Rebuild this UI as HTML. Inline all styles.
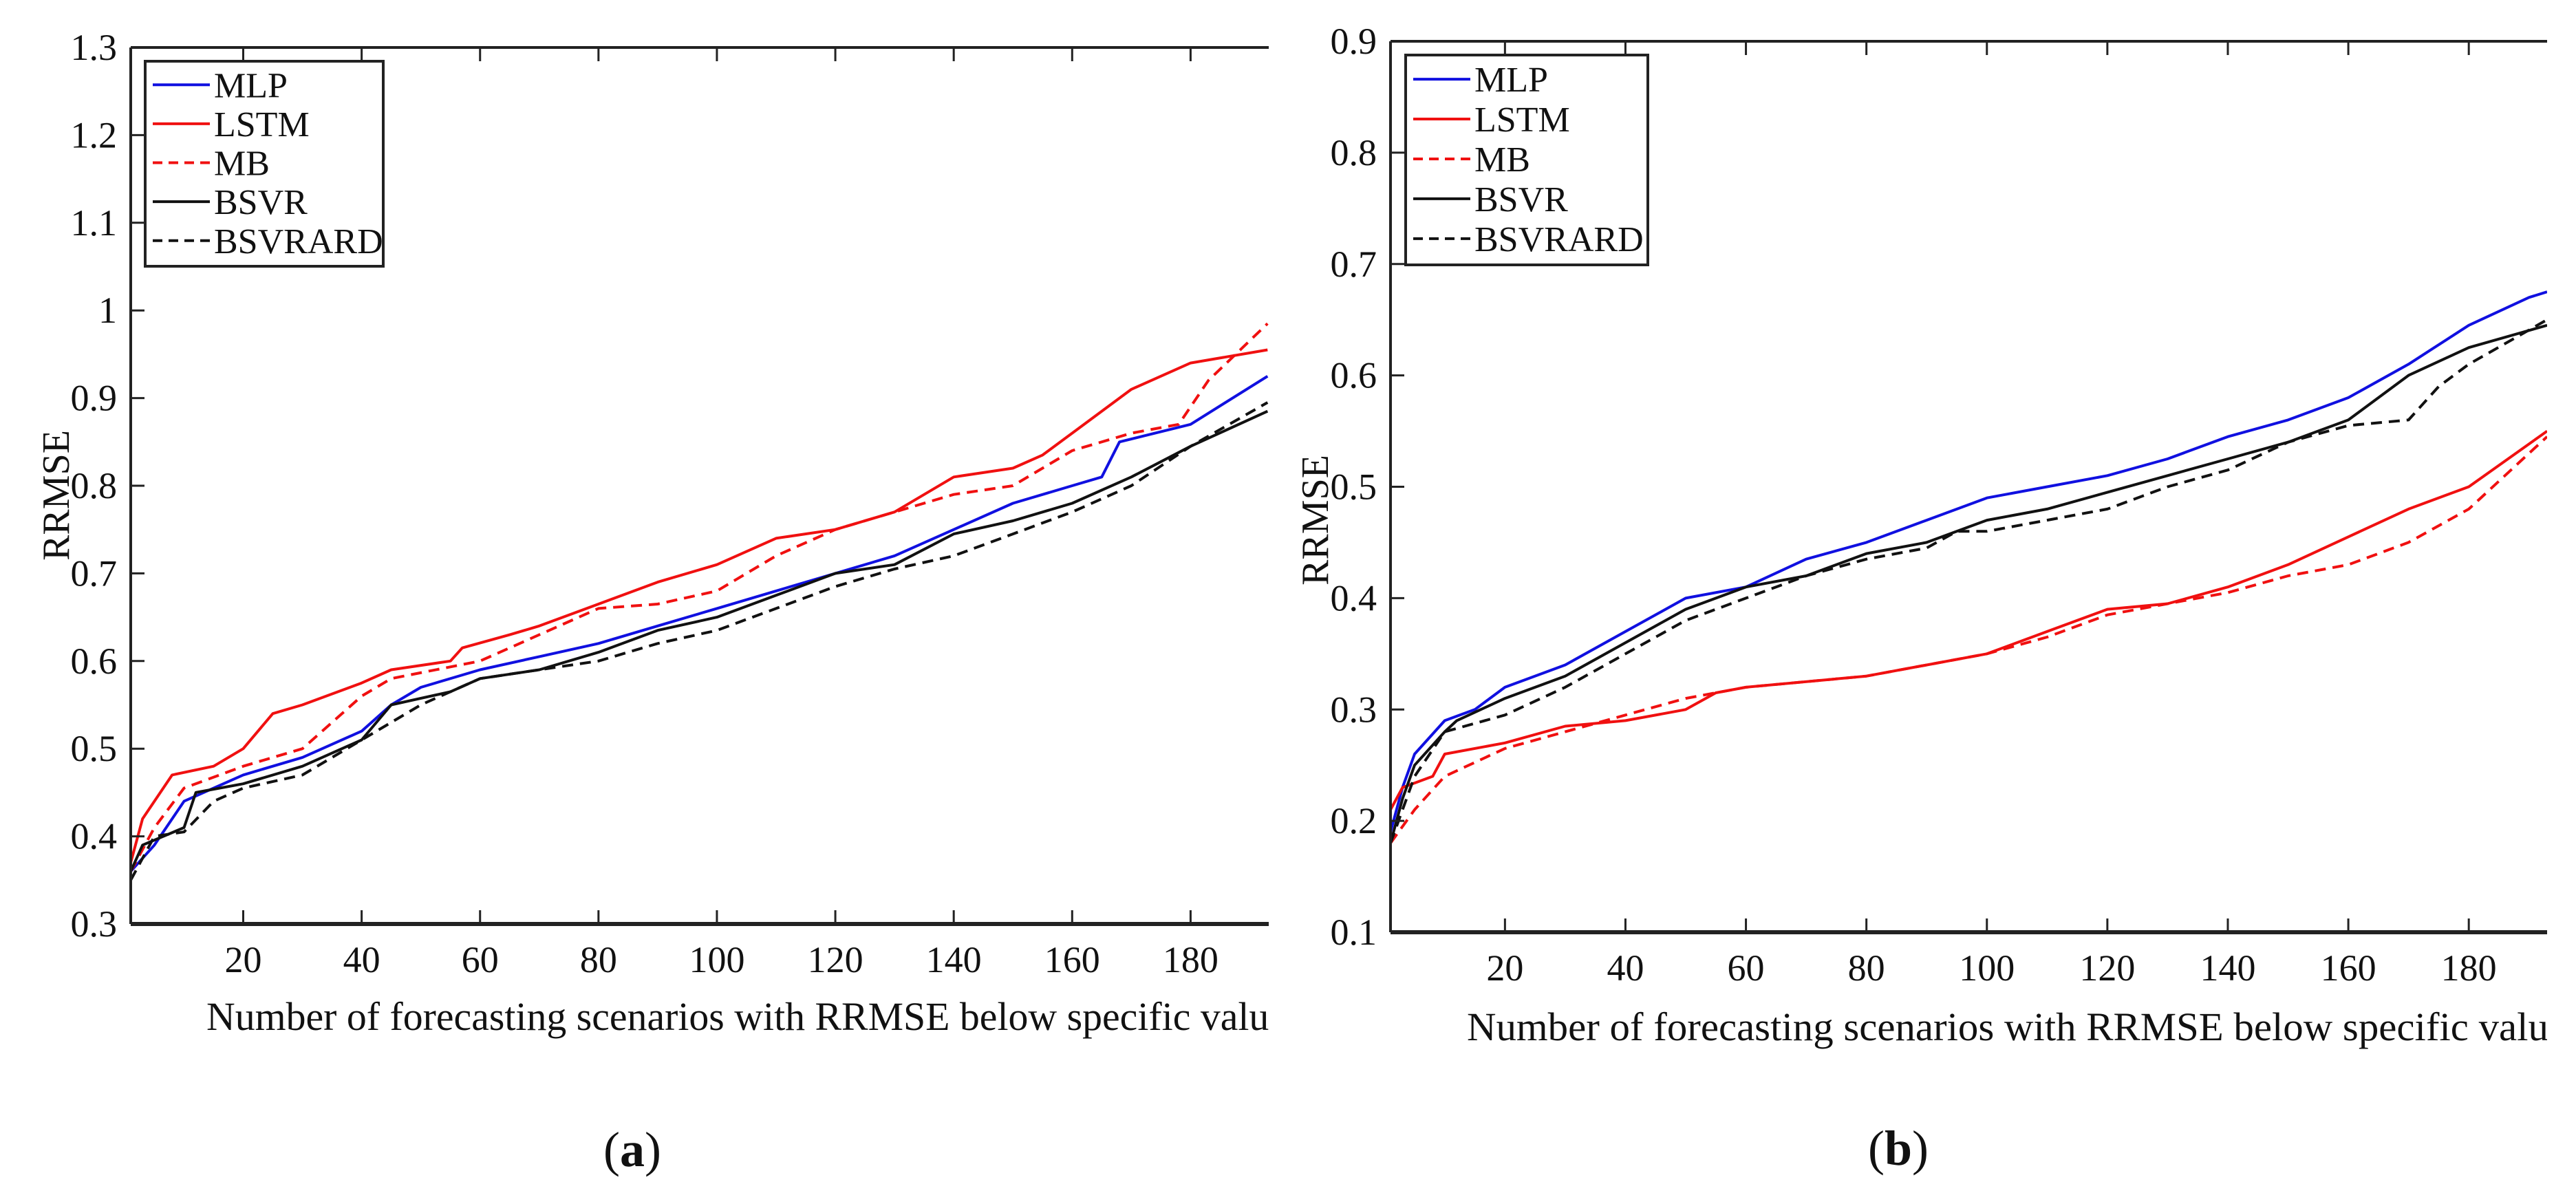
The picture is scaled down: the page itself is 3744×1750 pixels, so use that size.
<!DOCTYPE html>
<html><head><meta charset="utf-8"><style>
html,body{margin:0;padding:0;background:#fff;}
svg{display:block;}
text{font-family:"Liberation Serif",serif;fill:#111;}
</style></head><body>
<svg id="fig" width="3744" height="1750" viewBox="0 0 3744 1750">
<defs>
<clipPath id="clipA"><rect x="190" y="69" width="1654" height="1274"/></clipPath>
<clipPath id="clipB"><rect x="2021" y="60" width="1681" height="1296"/></clipPath>
<clipPath id="clipTA"><rect x="0" y="1400" width="1844" height="200"/></clipPath>
<clipPath id="clipTB"><rect x="1900" y="1400" width="1802" height="200"/></clipPath>
</defs>
<g id="chartA"></g>
<g id="chartB"></g>
</svg>
<script>
const seriesNames = ["MLP","LSTM","MB","BSVR","BSVRARD"];
const seriesColors = ["#1010e0","#f01010","#f01010","#111111","#111111"];
const seriesDash = ["", "", "16,10", "", "16,10"];
const xTicks = [20,40,60,80,100,120,140,160,180];
const yTicksA = [0.3,0.4,0.5,0.6,0.7,0.8,0.9,1,1.1,1.2,1.3];
const yTicksB = [0.1,0.2,0.3,0.4,0.5,0.6,0.7,0.8,0.9];

const aMLP = [[1,0.36],[5,0.39],[10,0.44],[20,0.47],[30,0.49],[40,0.52],[45,0.55],[50,0.57],[60,0.59],[70,0.605],[80,0.62],[90,0.64],[100,0.66],[110,0.68],[120,0.70],[130,0.72],[140,0.75],[150,0.78],[160,0.80],[165,0.81],[168,0.85],[180,0.87],[193,0.925]];
const aLSTM = [[1,0.37],[3,0.42],[8,0.47],[15,0.48],[20,0.50],[25,0.54],[30,0.55],[40,0.575],[45,0.59],[55,0.60],[57,0.615],[65,0.63],[70,0.64],[80,0.665],[90,0.69],[100,0.71],[110,0.74],[120,0.75],[130,0.77],[140,0.81],[150,0.82],[155,0.835],[160,0.86],[170,0.91],[180,0.94],[193,0.955]];
const aMB = [[1,0.36],[5,0.41],[10,0.455],[20,0.48],[30,0.50],[35,0.53],[40,0.56],[45,0.58],[60,0.60],[70,0.63],[80,0.66],[90,0.665],[100,0.68],[110,0.72],[120,0.75],[130,0.77],[140,0.79],[150,0.80],[160,0.84],[170,0.86],[178,0.87],[183,0.92],[193,0.985]];
const aBSVR = [[1,0.36],[3,0.39],[10,0.41],[12,0.45],[20,0.46],[30,0.48],[40,0.51],[45,0.55],[55,0.565],[60,0.58],[70,0.59],[80,0.61],[90,0.635],[100,0.65],[110,0.675],[120,0.70],[130,0.71],[140,0.745],[150,0.76],[160,0.78],[170,0.81],[180,0.845],[193,0.885]];
const aBSVRARD = [[1,0.35],[5,0.40],[10,0.405],[15,0.44],[20,0.455],[30,0.47],[40,0.51],[45,0.53],[50,0.55],[60,0.58],[70,0.59],[80,0.60],[90,0.62],[100,0.635],[110,0.66],[120,0.685],[130,0.705],[140,0.72],[150,0.745],[160,0.77],[170,0.80],[180,0.845],[193,0.895]];

const bMLP = [[1,0.19],[3,0.23],[5,0.26],[10,0.29],[15,0.30],[20,0.32],[30,0.34],[40,0.37],[50,0.40],[60,0.41],[70,0.435],[80,0.45],[90,0.47],[100,0.49],[110,0.50],[120,0.51],[130,0.525],[140,0.545],[150,0.56],[160,0.58],[170,0.61],[180,0.645],[190,0.67],[193,0.675]];
const bLSTM = [[1,0.21],[3,0.23],[8,0.24],[10,0.26],[20,0.27],[30,0.285],[40,0.29],[50,0.30],[55,0.315],[60,0.32],[80,0.33],[100,0.35],[110,0.37],[120,0.39],[130,0.395],[140,0.41],[150,0.43],[160,0.455],[170,0.48],[180,0.50],[193,0.55]];
const bMB = [[1,0.18],[5,0.21],[10,0.24],[20,0.265],[30,0.28],[40,0.295],[50,0.31],[60,0.32],[80,0.33],[100,0.35],[110,0.365],[120,0.385],[130,0.395],[140,0.405],[150,0.42],[160,0.43],[170,0.45],[180,0.48],[190,0.53],[193,0.545]];
const bBSVR = [[1,0.18],[3,0.22],[5,0.25],[10,0.28],[12,0.29],[20,0.31],[30,0.33],[40,0.36],[50,0.39],[60,0.41],[70,0.42],[80,0.44],[90,0.45],[100,0.47],[110,0.48],[120,0.495],[130,0.51],[140,0.525],[150,0.54],[160,0.56],[170,0.60],[180,0.625],[193,0.645]];
const bBSVRARD = [[1,0.18],[5,0.24],[10,0.28],[20,0.295],[30,0.32],[40,0.35],[50,0.38],[60,0.40],[70,0.42],[80,0.435],[90,0.445],[95,0.46],[100,0.46],[110,0.47],[120,0.48],[130,0.50],[140,0.515],[150,0.54],[160,0.555],[170,0.56],[175,0.59],[180,0.61],[193,0.65]];

const NS="http://www.w3.org/2000/svg";
function mk(tag, attrs, parent){const e=document.createElementNS(NS,tag);for(const k in attrs)e.setAttribute(k,attrs[k]);parent.appendChild(e);return e;}

function drawChart(g, cfg){
  const sx=v=>cfg.x0+(v-1)/(cfg.xmax-1)*(cfg.x1-cfg.x0);
  const sy=v=>cfg.yb-(v-cfg.ymin)/(cfg.ymax-cfg.ymin)*(cfg.yb-cfg.yt);
  const sg=mk('g',{'clip-path':'url(#'+cfg.clip+')'},g);
  
  
  cfg.data.forEach((d,i)=>{
    const p=mk('polyline',{points:d.map(q=>sx(q[0]).toFixed(1)+','+sy(q[1]).toFixed(1)).join(' '),fill:'none',stroke:seriesColors[i],'stroke-width':4,'stroke-linejoin':'round'},sg);
    if(seriesDash[i])p.setAttribute('stroke-dasharray',seriesDash[i]);
    
    
  });
  const ax=mk('g',{},g);
  
  
  mk('line',{x1:cfg.x0,y1:cfg.yt,x2:cfg.x1,y2:cfg.yt,stroke:'#222','stroke-width':4},ax);
  mk('line',{x1:cfg.x0,y1:cfg.yt,x2:cfg.x0,y2:cfg.yb,stroke:'#222','stroke-width':4},ax);
  mk('line',{x1:cfg.x0,y1:cfg.yb,x2:cfg.x1,y2:cfg.yb,stroke:'#222','stroke-width':6},ax);
  xTicks.forEach(t=>{
    const x=sx(t);
    mk('line',{x1:x,y1:cfg.yb,x2:x,y2:cfg.yb-20,stroke:'#222','stroke-width':3},ax);
    mk('line',{x1:x,y1:cfg.yt,x2:x,y2:cfg.yt+20,stroke:'#222','stroke-width':3},ax);
    const tl=mk('text',{x:x,y:cfg.tickBase,'font-size':54,'text-anchor':'middle'},ax);
    tl.textContent=t;
    
    
  });
  cfg.yticks.forEach(t=>{
    const y=sy(t);
    mk('line',{x1:cfg.x0,y1:y,x2:cfg.x0+20,y2:y,stroke:'#222','stroke-width':3},ax);
    const tl=mk('text',{x:cfg.x0-20,y:y+18,'font-size':54,'text-anchor':'end'},ax);
    tl.textContent=String(t);
    
    
  });
  const yt=mk('text',{x:0,y:0,'font-size':56,'text-anchor':'middle',transform:'translate('+cfg.ytx+','+cfg.yty+') rotate(-90)'},g);
  yt.textContent='RRMSE';
  
  
  const xg=mk('g',{'clip-path':'url(#'+cfg.tclip+')'},g);
  const xt=mk('text',{x:cfg.xtx,y:cfg.xty,'font-size':58,textLength:cfg.tlen,lengthAdjust:'spacingAndGlyphs'},xg);
  xt.textContent='Number of forecasting scenarios with RRMSE below specific value';
  
  
  const lg=mk('g',{},g);
  
  
  const L=cfg.leg;
  mk('rect',{x:L.x,y:L.y,width:L.w,height:L.h,fill:'#fff',stroke:'#222','stroke-width':4},lg);
  seriesNames.forEach((n,i)=>{
    const cy=L.y+L.h*(0.115+i*0.19);
    const ln=mk('line',{x1:L.x+11,y1:cy,x2:L.x+94,y2:cy,stroke:seriesColors[i],'stroke-width':4},lg);
    if(seriesDash[i])ln.setAttribute('stroke-dasharray','14,9');
    
    
    const tx=mk('text',{x:L.x+100,y:cy+18,'font-size':52},lg);
    tx.textContent=n;
    
    
  });
  const cap=mk('text',{x:cfg.capx,y:cfg.capy,'font-size':72,'text-anchor':'middle'},g);
  cap.innerHTML='(<tspan font-weight="bold">'+cfg.cap+'</tspan>)';
  
  
}

drawChart(document.getElementById('chartA'),{
  x0:190,x1:1844,xmax:193.2,yt:69,yb:1343,ymin:0.3,ymax:1.3,yticks:yTicksA,
  clip:'clipA',tclip:'clipTA',tickBase:1413,ytx:100,yty:720,xtx:300,xty:1497,tlen:1570,
  leg:{x:211,y:89,w:346,h:298},capx:919,capy:1695,cap:'a',
  data:[aMLP,aLSTM,aMB,aBSVR,aBSVRARD]
});
drawChart(document.getElementById('chartB'),{
  x0:2021,x1:3702,xmax:193,yt:60,yb:1355,ymin:0.1,ymax:0.9,yticks:yTicksB,
  clip:'clipB',tclip:'clipTB',tickBase:1425,ytx:1930,yty:756,xtx:2132,xty:1512,tlen:1598,
  leg:{x:2043,y:80,w:352,h:305},capx:2759,capy:1693,cap:'b',
  data:[bMLP,bLSTM,bMB,bBSVR,bBSVRARD]
});
</script>
</body></html>
